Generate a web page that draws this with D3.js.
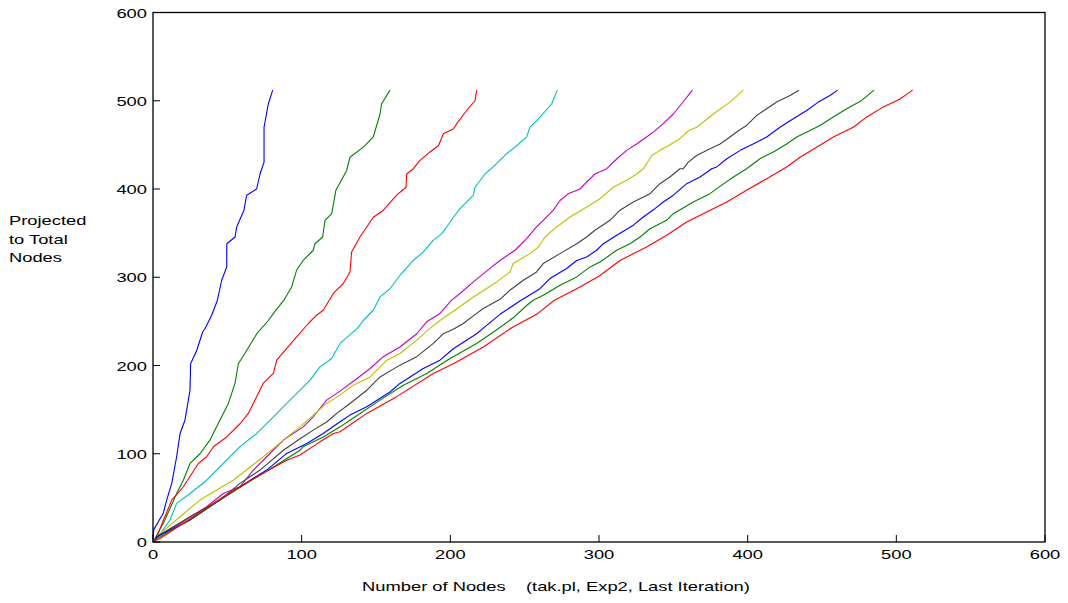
<!DOCTYPE html>
<html>
<head>
<meta charset="utf-8">
<script src="https://cdn.jsdelivr.net/npm/d3@7"></script>
<style>
  body { margin: 0; background: #fff; }
  text { font-family: "Liberation Sans", Arial, Helvetica, sans-serif; fill: #000; white-space: pre; }
</style>
</head>
<body>
<div id="chart1"></div>
<script>

// curves: [nodes, projected total]
let run1 = [[0,4],[0.5,14],[6.9,32.5],[9.2,47.5],[12.6,66.4],[15.9,96.6],[18.2,123],[21.5,138],[24.9,172],[25.3,202],[29.4,217],[33.4,238],[35,242],[39.5,257],[43.3,274],[46.2,296.6],[49.6,311.7],[49.6,338],[55.2,345.6],[56.3,357],[61.2,376],[63,393],[69.7,400],[72,417],[74.7,430.5],[74.7,470],[77.6,496.6],[80.5,512]];
let run2 = [[1,2],[2,6],[8,25],[15.9,55],[20.4,70],[24.9,89],[31.6,100],[38.3,115.5],[45,138],[50.7,157],[55.2,180],[57.4,202],[63,217],[69.8,236],[77.6,251],[81,259],[88,274],[93.3,289],[96.6,308],[101,319],[107.8,330.6],[109,338],[114.1,345.6],[115.7,364.5],[120.2,372],[123,398.5],[130.3,421],[132.5,436],[141.5,447.5],[148.2,459],[152.7,485],[153.8,496.6],[159.4,512]];
let run3 = [[1,2],[2.5,6],[8,28.6],[12.6,47.5],[20.4,62.6],[30.5,89],[36.1,96.6],[40.6,108],[49.6,119],[58.5,134],[64.1,145.7],[68.6,160.8],[74.2,180],[81,191],[83.2,206],[96.6,232.4],[104.5,247.6],[110,257],[114.5,262.6],[121.3,281.6],[128,293],[132.5,306],[133.6,328.7],[139.2,345.6],[148.2,368],[154.9,376],[163.9,393],[170.2,402],[170.6,417],[175.1,423],[179.6,432.5],[186.3,442],[192,449],[195.3,462.6],[202,468],[204.3,474],[211,489],[216.6,500],[217.7,512]];
let run4 = [[1,2],[3.6,6],[11.4,25],[15.9,43.8],[24.9,55],[36.1,70],[47.3,89],[58.5,108],[69.8,123],[81,141.9],[89.9,157],[98.9,172],[105.6,183.4],[112.3,198.5],[120.2,208],[125.8,225],[137.4,242],[141.5,251],[148.2,262.6],[152.7,277.7],[159.4,287],[166.1,302],[175.1,319],[181.8,328.7],[188.6,342],[194.2,349.5],[197.5,357],[202,368],[206.5,377.8],[215.5,393],[216.6,402],[223.3,417],[228.9,425],[237.9,440],[244.6,449],[251.3,459],[253.6,470],[260.3,481.5],[268.2,496.6],[272,512]];
let run5 = [[1,2],[2.5,6],[18.2,21],[36.1,40],[47.3,55],[58.5,62.6],[67.5,81.5],[76.5,96.6],[87.7,115.5],[101,130.5],[107.8,141.9],[116.8,160.8],[125.8,171],[137,185],[146,196.6],[154.9,210],[166.1,221],[177.4,236],[184.1,249.5],[193,259],[200.9,274],[206.5,281.6],[215.5,294.7],[226.7,310],[233.4,319],[243.5,330.6],[251.3,343.8],[258,357],[262.5,364.5],[269.3,376],[273.8,387],[279.3,394.7],[287.2,400],[290.6,406],[297.3,417],[305.2,423],[311.9,434],[318.6,443.8],[325.3,451],[328.7,455],[336.5,464.5],[343.2,474],[350,485],[355.6,496.6],[362.8,512]];
let run6 = [[1,2],[2.5,6],[18.2,28.6],[31.6,47.5],[42.8,59],[54,70],[74.2,96.6],[87.7,115.5],[98.9,130.5],[107.8,143.8],[116.8,157],[125.8,166.4],[134.7,177.7],[146,187],[157.3,206],[166.1,213.6],[177.4,228.7],[186.3,242],[193,251],[202,261.5],[215.5,277.7],[231.2,294.7],[240.1,306],[242.3,315.5],[253.6,326.8],[259.2,334.3],[263.7,345.6],[271.5,357],[280.5,368.3],[291.7,379.6],[300.7,389],[309.6,402],[318.6,409.8],[325.3,417],[329.8,423],[332,428.7],[335.4,438],[341,443.8],[346.6,449],[354.4,457],[360.1,466],[365.7,470],[376.9,485],[388.1,498.5],[397.1,512]];
let run7 = [[1,2],[2.5,6],[24.9,28.6],[45,47.5],[58.5,66.4],[72,81.5],[87.7,104],[98.9,117],[107.8,126.8],[116.8,136],[123.6,145.7],[132.5,157],[143.8,172],[152.7,187],[166.1,200.4],[177.4,210],[188.6,225],[195.3,236],[202,241],[208.7,247.6],[217.7,259],[222.2,264.6],[233.4,275],[240.1,285.3],[249.1,296.6],[258,306],[262.5,315.5],[273.8,326.8],[285,338],[291.7,345.6],[297.3,353.2],[307.4,364.5],[314.1,376],[323.1,385.3],[334.3,394.7],[341,406],[347.7,413.6],[354.4,423],[356.7,423],[360.1,430.5],[365.7,438],[374.7,445.7],[381.4,451],[388.1,459],[393.7,466],[399.3,472],[406.1,483.4],[412.8,491],[419.5,498.5],[428.5,506],[434.5,512]];
let run8 = [[1,2],[2.5,6],[24.9,25],[45,47.5],[58.5,62.6],[76.5,81.5],[89.9,100.4],[103.4,111.7],[114.5,123],[125.8,136.2],[132.5,143.8],[143.8,153.2],[159.4,170],[166.1,179.7],[181.8,196.6],[193,206],[202,219],[217.7,236],[222,242],[233.4,258],[246.8,273],[260.3,287],[267,298.5],[278.2,309.9],[285,319],[291.7,323],[298.4,330.6],[302.9,338],[311.9,347.6],[323.1,359],[329.8,368.3],[337.6,377.7],[343.2,385.3],[350,393],[359,406],[368,413.6],[375.8,423],[379.2,425],[386,434.3],[395,443.8],[406.1,453],[412.8,459],[421.7,470],[430.7,479.6],[439.7,489],[447.5,498.5],[455.4,506],[460.5,512]];
let run9 = [[1,2],[4.7,6],[24.9,25],[45,47.5],[63,66.4],[81,85],[98.9,104],[101,108],[114.5,119],[125.8,130.5],[132.5,138],[152.7,160.8],[168.4,177.7],[184.1,191],[199.8,208],[217.7,225],[231.2,240.5],[243,255],[251.3,268],[255.8,274],[262.5,279.6],[273.8,291],[285,300.4],[294,311.7],[300.7,317.3],[311.9,330.6],[320.8,338],[327.6,345.6],[334.3,355],[345.5,364.5],[350,372],[363.4,385.3],[374.7,394.7],[379.2,400.4],[390.4,413.6],[399.3,423],[408.3,434.3],[417.3,441.9],[426.2,451],[433,459],[441.9,466.4],[448.6,472],[457.6,481.5],[466.6,491],[476.7,500.4],[485,512]];
let run10 = [[1,1],[4.7,4],[27.1,28.6],[47.3,51.3],[69.8,74],[89.9,92.7],[98.9,98.5],[112.3,113.5],[121.3,123],[125.8,125],[143.8,145.7],[163.9,164.7],[188.6,191],[202,202],[222.2,221],[241,242.5],[258,258],[270,274],[287.2,289],[300.7,302],[314.1,319],[332,334.3],[345.5,347.6],[359,362.6],[372.4,374],[386,385.3],[399.3,398.5],[412.8,411.7],[426.2,425],[435.2,436],[448.6,449.5],[457.6,459],[471,470],[480,481.5],[491.2,492.8],[502.5,502],[511,512]];

let runs = [run1, run2, run3, run4, run5, run6, run7, run8, run9, run10];
let runColors = ['#0000ff', '#008000', '#ff0000', '#00bfbf', '#bf00bf', '#bfbf00', '#404040', '#0000ff', '#008000', '#ff0000'];

let xTicks = [0, 100, 200, 300, 400, 500, 600];
let yTicks = [0, 100, 200, 300, 400, 500, 600];

let xLabel = 'Number of Nodes    (tak.pl, Exp2, Last Iteration)';
let yLabel = ['Projected', 'to Total', 'Nodes'];


let dim = {
    'width': 1068,
    'height': 603
};
let box = { left: 153, right: 1045, top: 12.5, bottom: 542 };
let stretch = 1.41;   // the picture was widened, text too

let svg = d3.select('#chart1').append('svg')
    .attr('width', dim.width)
    .attr('height', dim.height);

let scaleX = d3.scaleLinear().domain([0, 600]).range([box.left, box.right]);
let scaleY = d3.scaleLinear().domain([0, 600]).range([box.bottom, box.top]);

function wideText(x, y, str, anchor) {
    svg.append('text')
        .attr('transform', `translate(${x},${y}) scale(${stretch},1)`)
        .attr('text-anchor', anchor)
        .attr('font-size', 13)
        .attr('xml:space', 'preserve')
        .text(str);
}

// curves
let line = d3.line().x(d => scaleX(d[0])).y(d => scaleY(d[1]));
let g = svg.append('g');
g.selectAll('path')
    .data(runs)
    .join('path')
    .attr('d', d => line(d))
    .attr('fill', 'none')
    .attr('stroke', (d, i) => runColors[i])
    .attr('stroke-width', 1.1)
    .attr('stroke-linejoin', 'round');

// box
svg.append('rect')
    .attr('x', box.left).attr('y', box.top)
    .attr('width', box.right - box.left)
    .attr('height', box.bottom - box.top)
    .attr('fill', 'none')
    .attr('stroke', '#000')
    .attr('stroke-width', 1.3);

// ticks point inward, like matlab
svg.selectAll('.xtick')
    .data(xTicks)
    .join('line')
    .attr('class', 'xtick')
    .attr('x1', d => scaleX(d)).attr('x2', d => scaleX(d))
    .attr('y1', box.bottom).attr('y2', box.bottom - 7)
    .attr('stroke', '#000');

svg.selectAll('.ytick')
    .data(yTicks)
    .join('line')
    .attr('class', 'ytick')
    .attr('x1', box.left).attr('x2', box.left + 7)
    .attr('y1', d => scaleY(d)).attr('y2', d => scaleY(d))
    .attr('stroke', '#000');

xTicks.forEach(t => wideText(scaleX(t), 559, t, 'middle'));
yTicks.forEach(t => wideText(box.left - 6, scaleY(t) + 5, t, 'end'));

wideText(556, 591, xLabel, 'middle');
yLabel.forEach((s, i) => wideText(9, 225 + i * 18.5, s, 'start'));

</script>
</body>
</html>
